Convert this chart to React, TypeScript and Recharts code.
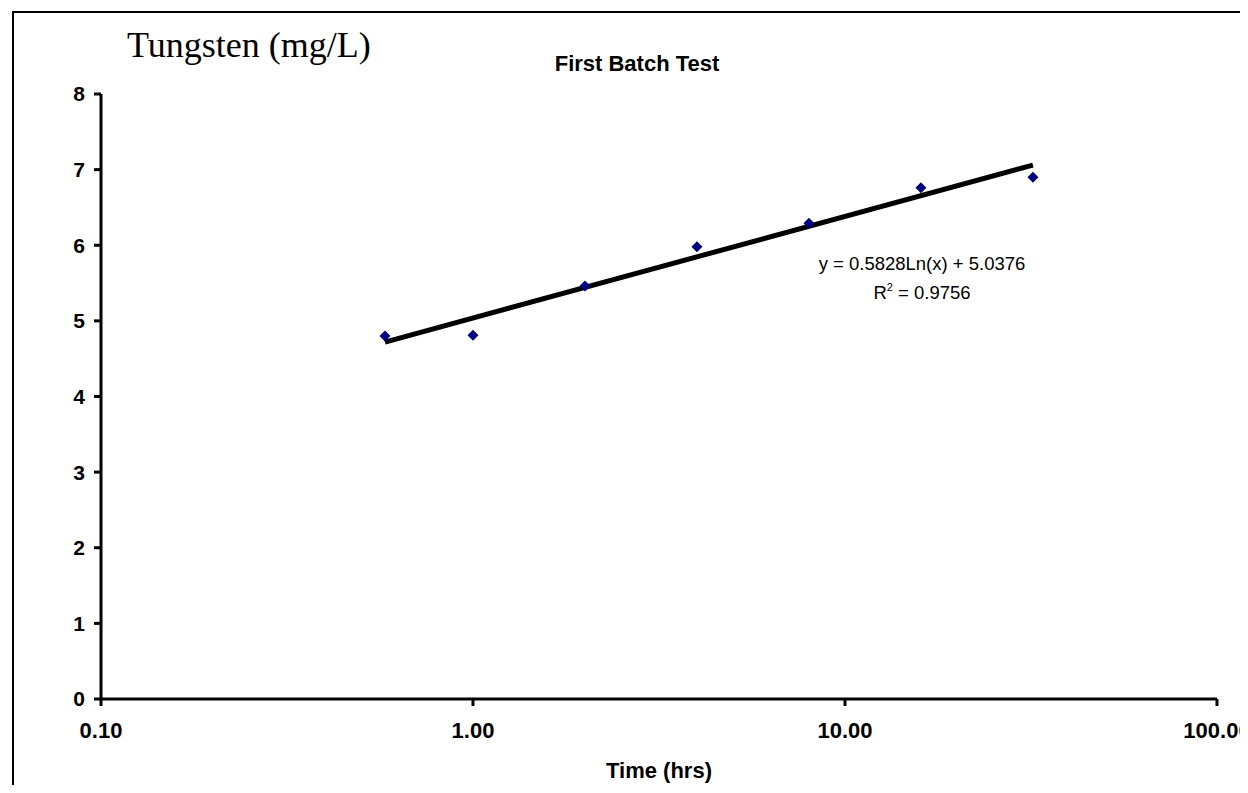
import { Scatter, ScatterChart, XAxis, YAxis } from "recharts"

// sample times (hrs) and measured tungsten (mg/L)
const timeHrs = [0.58, 1, 2, 4, 8, 16, 32]
const tungsten = [4.8, 4.81, 5.46, 5.98, 6.29, 6.76, 6.9]

// log trendline end points, as drawn
const trendX = [0.58, 32]
const trendY = [4.72, 7.06]

const xTicks = [0.1, 1, 10, 100]
const yTicks = [0, 1, 2, 3, 4, 5, 6, 7, 8]

const chartTitle = "First Batch Test"
const yTitle = "Tungsten (mg/L)"
const xTitle = "Time (hrs)"
const equation = "y = 0.5828Ln(x) + 5.0376"
const rSquared = "0.9756"

const W = 1240
const H = 777
const sans = "'Liberation Sans', Arial, sans-serif"

const points = timeHrs.map((x, i) => ({ x, y: tungsten[i] }))
const trend = trendX.map((x, i) => ({ x, y: trendY[i] }))

const Diamond = (props: any) => {
  const { cx, cy } = props
  if (cx == null || cy == null) return <g />
  const r = 5.5
  return (
    <path
      d={`M${cx},${cy - r} L${cx + r},${cy} L${cx},${cy + r} L${cx - r},${cy} Z`}
      fill="#000080"
    />
  )
}

export default function App() {
  return (
    <div style={{ position: "relative", width: W, height: H, overflow: "hidden", background: "#fff" }}>
      <div
        style={{
          position: "absolute",
          left: 4,
          top: 3,
          width: 1400,
          height: 1000,
          border: "2px solid #000",
        }}
      />
      <ScatterChart width={W} height={H} margin={{ top: 86, right: 31, bottom: 26, left: 33 }}>
        <XAxis
          dataKey="x"
          type="number"
          scale="log"
          domain={[0.1, 100]}
          ticks={xTicks}
          interval={0}
          allowDataOverflow
          height={60}
          stroke="#000"
          strokeWidth={3}
          tickSize={7}
          tickMargin={16}
          tick={{ fill: "#000", fontSize: 22, fontWeight: "bold", fontFamily: sans }}
          tickFormatter={(v: number) => v.toFixed(2)}
        />
        <YAxis
          dataKey="y"
          type="number"
          domain={[0, 8]}
          ticks={yTicks}
          interval={0}
          width={60}
          stroke="#000"
          strokeWidth={3}
          tickSize={7}
          tickMargin={9}
          tick={{ fill: "#000", fontSize: 21, fontWeight: "bold", fontFamily: sans }}
        />
        <Scatter
          data={trend}
          line={{ stroke: "#000", strokeWidth: 5 }}
          lineType="joint"
          shape={() => <g />}
          isAnimationActive={false}
        />
        <Scatter data={points} shape={Diamond} isAnimationActive={false} />
      </ScatterChart>
      <svg
        width={W}
        height={H}
        style={{ position: "absolute", left: 0, top: 0, pointerEvents: "none" }}
      >
        <text x={119} y={49} fontFamily="'Liberation Serif', serif" fontSize={36} fill="#000">
          {yTitle}
        </text>
        <text x={629} y={63} textAnchor="middle" fontFamily={sans} fontSize={22} fontWeight="bold" fill="#000">
          {chartTitle}
        </text>
        <text x={651} y={770} textAnchor="middle" fontFamily={sans} fontSize={22} fontWeight="bold" fill="#000">
          {xTitle}
        </text>
        <text x={914} y={262} textAnchor="middle" fontFamily={sans} fontSize={18.5} fill="#000">
          {equation}
        </text>
        <text x={914} y={291} textAnchor="middle" fontFamily={sans} fontSize={18.5} fill="#000">
          R<tspan fontSize={11} dy={-8}>2</tspan>
          <tspan dy={8}>{` = ${rSquared}`}</tspan>
        </text>
      </svg>
    </div>
  )
}
